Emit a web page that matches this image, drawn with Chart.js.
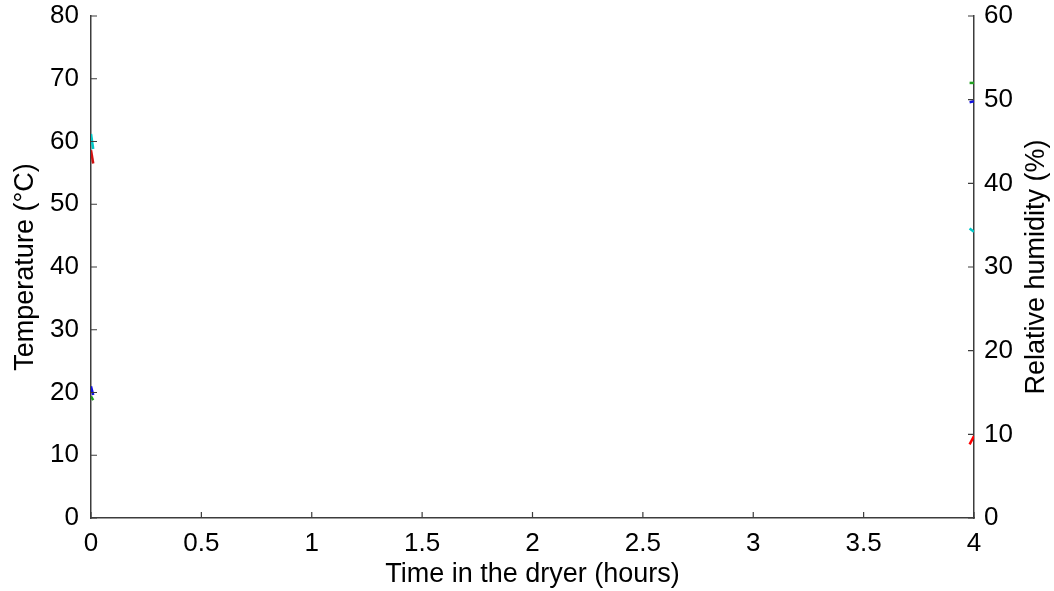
<!DOCTYPE html>
<html>
<head>
<meta charset="utf-8">
<script src="https://cdn.jsdelivr.net/npm/chart.js@4/dist/chart.umd.min.js"></script>
<style>
  html, body { margin: 0; padding: 0; background: #fff; }
  #wrap { width: 1054px; height: 591px; }
</style>
</head>
<body>
<div id="wrap"><canvas id="dryerChart"></canvas></div>
<script>
// time axis (hours) and the short pieces of each trace that fall inside it
const startTime = [0, 0.01];
const endTime = [3.98, 4];

// temperatures (°C), left axis
const tempCyan = [61.2, 58.8];
const tempRed = [58.6, 56.5];
const tempBlue = [21.0, 19.6];
const tempGreen = [19.4, 18.8];

// relative humidity (%), right axis
const rhCyan = [34.6, 34.2];
const rhRed = [8.8, 9.8];
const rhBlue = [49.7, 49.8];
const rhGreen = [52.0, 52.0];

const rhTitle = 'Relative humidity (%)';
const axisColor = '#3c3c3c';
const fontFamily = 'Liberation Sans, Arial, sans-serif';
const tickFont = { family: fontFamily, size: 26 };
const titleFont = { family: fontFamily, size: 27 };

function pts(xs, ys) {
  return xs.map((x, i) => ({ x: x, y: ys[i] }));
}

function line(xs, ys, color, axis) {
  return {
    data: pts(xs, ys),
    borderColor: color,
    borderWidth: 2.5,
    pointRadius: 0,
    fill: false,
    yAxisID: axis
  };
}

// MATLAB style inward tick marks, plus the right title read bottom to top
const inwardTicks = {
  id: 'inwardTicks',
  afterDraw(chart) {
    const { ctx, chartArea } = chart;
    const len = 6;
    ctx.save();
    ctx.strokeStyle = axisColor;
    ctx.lineWidth = 1.2;
    ctx.beginPath();
    const sx = chart.scales.x;
    sx.ticks.forEach((t, i) => {
      const p = sx.getPixelForTick(i);
      ctx.moveTo(p, chartArea.bottom);
      ctx.lineTo(p, chartArea.bottom - len);
    });
    const sl = chart.scales.yTemp;
    sl.ticks.forEach((t, i) => {
      const p = sl.getPixelForTick(i);
      ctx.moveTo(chartArea.left, p);
      ctx.lineTo(chartArea.left + len, p);
    });
    const sr = chart.scales.yRH;
    sr.ticks.forEach((t, i) => {
      const p = sr.getPixelForTick(i);
      ctx.moveTo(chartArea.right, p);
      ctx.lineTo(chartArea.right - len, p);
    });
    ctx.stroke();

    ctx.translate(sr.right - 17, (chartArea.top + chartArea.bottom) / 2);
    ctx.rotate(-Math.PI / 2);
    ctx.fillStyle = '#000';
    ctx.font = titleFont.size + 'px ' + fontFamily;
    ctx.textAlign = 'center';
    ctx.textBaseline = 'middle';
    ctx.fillText(rhTitle, 0, 0);
    ctx.restore();
  }
};

const plainNum = v => String(Number(v));

function fitY(width) {
  return s => {
    s.width = width;
    s.paddingTop = 16;
    s.paddingBottom = 0;
  };
}

new Chart(document.getElementById('dryerChart'), {
  type: 'line',
  data: {
    datasets: [
      line(startTime, tempCyan, '#00c8c8', 'yTemp'),
      line(startTime, tempRed, '#d01010', 'yTemp'),
      line(startTime, tempBlue, '#1010e0', 'yTemp'),
      line(startTime, tempGreen, '#20a020', 'yTemp'),
      line(endTime, rhCyan, '#00c8c8', 'yRH'),
      line(endTime, rhRed, '#ff0000', 'yRH'),
      line(endTime, rhBlue, '#1010e0', 'yRH'),
      line(endTime, rhGreen, '#20a020', 'yRH')
    ]
  },
  options: {
    responsive: true,
    maintainAspectRatio: false,
    animation: false,
    layout: { padding: { top: 16 } },
    plugins: { legend: { display: false }, tooltip: { enabled: false } },
    scales: {
      x: {
        type: 'linear',
        min: 0,
        max: 4,
        ticks: { stepSize: 0.5, color: '#000', font: tickFont, padding: 10, maxRotation: 0, callback: plainNum },
        grid: { drawOnChartArea: false, drawTicks: false },
        border: { display: true, color: axisColor, width: 1.5 },
        title: { display: true, text: 'Time in the dryer (hours)', color: '#000', font: titleFont, padding: { top: 0, bottom: 0 } },
        afterFit(s) { s.height = 73; }
      },
      yTemp: {
        type: 'linear',
        position: 'left',
        min: 0,
        max: 80,
        ticks: { stepSize: 10, color: '#000', font: tickFont, padding: 12 },
        grid: { drawOnChartArea: false, drawTicks: false },
        border: { display: true, color: axisColor, width: 1.5 },
        title: { display: true, text: 'Temperature (°C)', color: '#000', font: titleFont, padding: { top: 9, bottom: 0 } },
        afterFit: fitY(91)
      },
      yRH: {
        type: 'linear',
        position: 'right',
        min: 0,
        max: 60,
        ticks: { stepSize: 10, color: '#000', font: tickFont, padding: 10 },
        grid: { drawOnChartArea: false, drawTicks: false },
        border: { display: true, color: axisColor, width: 1.5 },
        afterFit: fitY(80)
      }
    }
  },
  plugins: [inwardTicks]
});
</script>
</body>
</html>
